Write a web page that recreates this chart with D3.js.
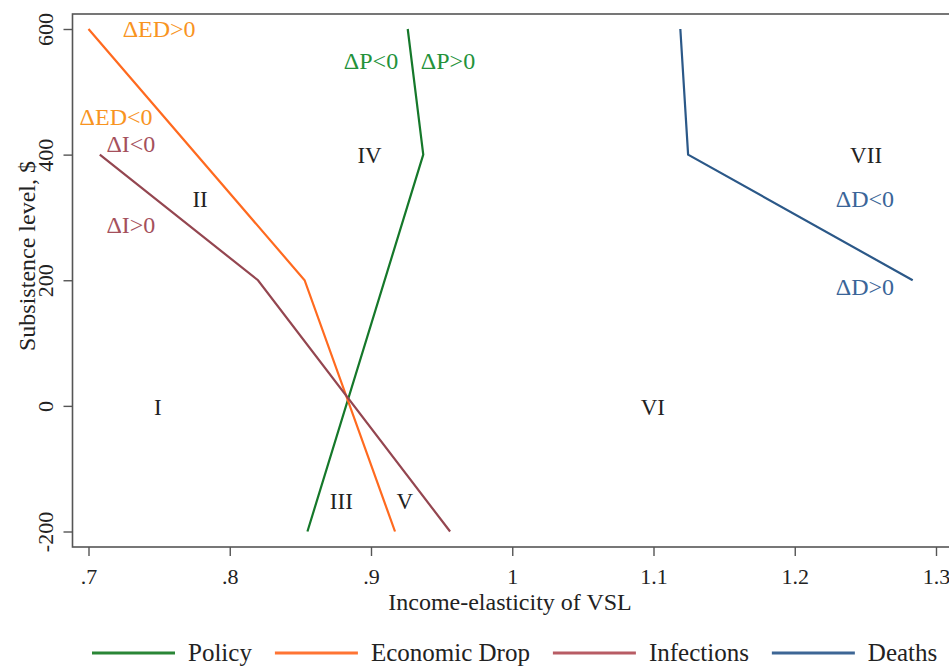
<!DOCTYPE html>
<html lang="en">
<head>
    <meta charset="UTF-8">
    <title>Income-elasticity of VSL</title>
    <script src="https://d3js.org/d3.v7.min.js"></script>
    <style>
        body {
            margin: 0;
            background-color: white;
        }
        svg { display: block; }
        svg text { font-family: "Liberation Serif", "Times New Roman", Times, "DejaVu Serif", serif; }
    </style>
</head>
<body>
    <script>
        // series: [elasticity, subsistence level]
        var policy = [[0.926, 600], [0.937, 400], [0.855, -200]]
        var econDrop = [[0.700, 600], [0.853, 200], [0.917, -200]]
        var infections = [[0.708, 400], [0.820, 200], [0.956, -200]]
        var deaths = [[1.119, 600], [1.1245, 400], [1.2835, 200]]

        var seriesNames = ["Policy", "Economic Drop", "Infections", "Deaths"]
        var xTicks = [0.7, 0.8, 0.9, 1.0, 1.1, 1.2, 1.3]
        var yTicks = [-200, 0, 200, 400, 600]

        // region labels and sign labels: [x value, y value, text]
        var regions = [
            [0.749, -15, "I"], [0.779, 317, "II"], [0.879, -164, "III"],
            [0.899, 387, "IV"], [0.924, -164, "V"], [1.0995, -15, "VI"], [1.2505, 387, "VII"]
        ]
        var signLabels = [
            [0.750, 587, "ΔED>0", 1], [0.7195, 447, "ΔED<0", 1],
            [0.730, 404, "ΔI<0", 2], [0.730, 275, "ΔI>0", 2],
            [0.900, 536, "ΔP<0", 0], [0.9545, 536, "ΔP>0", 0],
            [1.2497, 317, "ΔD<0", 3], [1.2497, 176, "ΔD>0", 3]
        ]

        var lineColors = ["#15782a", "#ff6a1f", "#944650", "#2b5888"]
        var legendColors = ["#2a8636", "#ff7433", "#b85c64", "#3d6695"]
        var textColors = ["#23923a", "#f8941f", "#a5505c", "#3a6598"]

        var W = 949, H = 667
        var frame = { left: 72.5, top: 14, right: 975, bottom: 547 }
        var serif = "Liberation Serif, Times New Roman, Times, serif"

        var svg = d3.select("body").append("svg")
            .attr("width", W)
            .attr("height", H)
            .attr("font-family", serif)

        var x = d3.scaleLinear().domain([0.7, 1.3]).range([88.5, 936])
        var y = d3.scaleLinear().domain([-200, 600]).range([531.5, 29])

        // plot frame
        svg.append("rect")
            .attr("x", frame.left)
            .attr("y", frame.top)
            .attr("width", frame.right - frame.left)
            .attr("height", frame.bottom - frame.top)
            .attr("fill", "none")
            .attr("stroke", "#555")
            .attr("stroke-width", 1.6)

        // x axis
        var xAxis = svg.append("g")
            .attr("transform", "translate(0," + frame.bottom + ")")
            .call(d3.axisBottom(x).tickValues(xTicks).tickSize(9).tickPadding(12)
                .tickFormat(function (d) { return d3.format(".1f")(d).replace(/^0/, "").replace(/\.0$/, "") }))
        xAxis.attr("font-family", serif)
        xAxis.select(".domain").remove()
        xAxis.selectAll("line").attr("stroke", "#555").attr("stroke-width", 1.4)
        xAxis.selectAll("text")
            .attr("font-size", 22)
            .attr("fill", "#222")

        // y axis
        var yAxis = svg.append("g")
            .attr("transform", "translate(" + frame.left + ",0)")
            .call(d3.axisLeft(y).tickValues(yTicks).tickSize(9)
                .tickFormat(function (d) { return String(d) }))
        yAxis.attr("font-family", serif)
        yAxis.select(".domain").remove()
        yAxis.selectAll("line").attr("stroke", "#555").attr("stroke-width", 1.4)
        yAxis.selectAll("text")
            .attr("font-size", 22)
            .attr("fill", "#222")
            .attr("text-anchor", "middle")
            .attr("x", null)
            .attr("dy", null)
            .attr("transform", "translate(-20,0) rotate(-90)")

        // axis titles
        svg.append("text")
            .attr("x", 510)
            .attr("y", 610)
            .attr("text-anchor", "middle")
            .attr("font-size", 24)
            .attr("fill", "#222")
            .text("Income-elasticity of VSL")
        svg.append("text")
            .attr("transform", "translate(35,256) rotate(-90)")
            .attr("text-anchor", "middle")
            .attr("font-size", 24)
            .attr("fill", "#222")
            .text("Subsistence level, $")

        // lines
        var line = d3.line()
            .x(function (d) { return x(d[0]) })
            .y(function (d) { return y(d[1]) })
        var allSeries = [policy, econDrop, infections, deaths]
        svg.selectAll(".series")
            .data(allSeries)
            .enter().append("path")
            .attr("class", "series")
            .attr("d", line)
            .attr("fill", "none")
            .attr("stroke", function (d, i) { return lineColors[i] })
            .attr("stroke-width", 2.2)

        // region numerals
        svg.selectAll(".region")
            .data(regions)
            .enter().append("text")
            .attr("class", "region")
            .attr("x", function (d) { return x(d[0]) })
            .attr("y", function (d) { return y(d[1]) })
            .attr("text-anchor", "middle")
            .attr("font-size", 23)
            .attr("fill", "#222")
            .text(function (d) { return d[2] })

        // sign labels
        svg.selectAll(".sign")
            .data(signLabels)
            .enter().append("text")
            .attr("class", "sign")
            .attr("x", function (d) { return x(d[0]) })
            .attr("y", function (d) { return y(d[1]) })
            .attr("text-anchor", "middle")
            .attr("font-size", 24)
            .attr("fill", function (d) { return textColors[d[3]] })
            .text(function (d) { return d[2] })

        // legend
        var lx = 92
        seriesNames.forEach(function (name, i) {
            svg.append("line")
                .attr("x1", lx).attr("x2", lx + 83)
                .attr("y1", 653).attr("y2", 653)
                .attr("stroke", legendColors[i])
                .attr("stroke-width", 3)
            var t = svg.append("text")
                .attr("x", lx + 96)
                .attr("y", 661)
                .attr("font-size", 25)
                .attr("fill", "#222")
                .text(name)
            lx = lx + 96 + t.node().getComputedTextLength() + 23
        })
    </script>
</body>
</html>
